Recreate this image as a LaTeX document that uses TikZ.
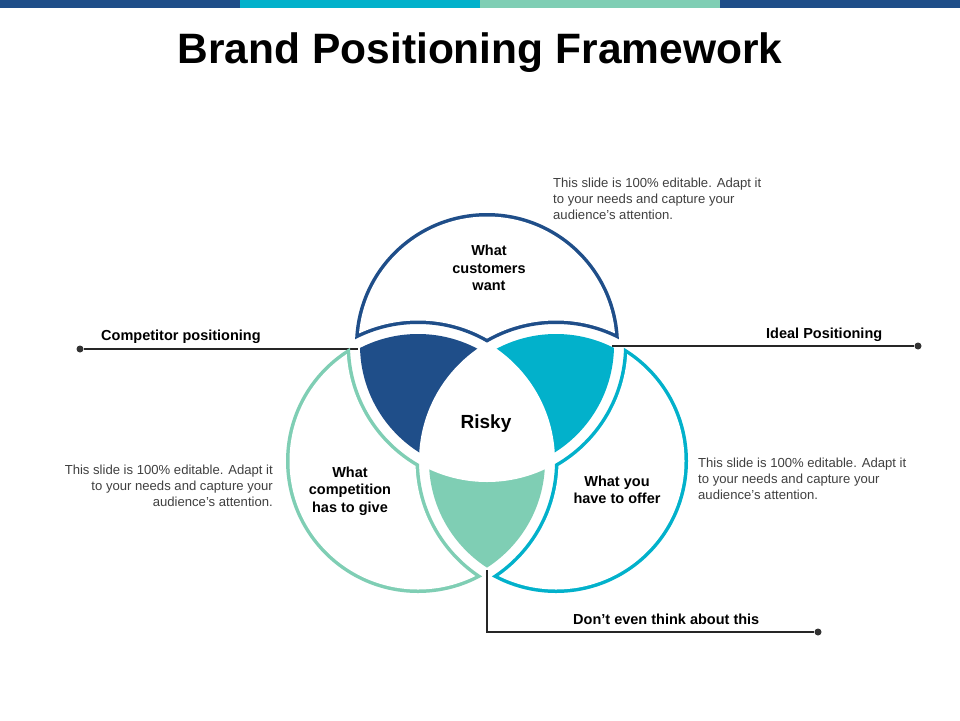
\documentclass[tikz,border=0pt]{standalone}
\usepackage{fontspec}
\setmainfont{Liberation Sans}
\definecolor{navy}{HTML}{1F4E89}
\definecolor{brandteal}{HTML}{02B1CB}
\definecolor{mint}{HTML}{7FCEB4}
\definecolor{notegray}{HTML}{404040}

\begin{document}
\begin{tikzpicture}[x=1pt,y=-1pt,
    headline/.style={font=\fontsize{42.5}{50}\selectfont\bfseries,inner sep=0},
    zonetext/.style={font=\fontsize{14.5}{17.5}\selectfont\bfseries,align=center,inner sep=0},
    notetext/.style={font=\fontsize{13.1}{16}\selectfont,text=notegray,inner sep=0},
    enddot/.style={circle,fill=black!80,inner sep=0,minimum size=7pt},
    leader/.style={black!85,line width=1.1pt}]

  \useasboundingbox[fill=white] (0,0) rectangle (960,720);

  % top bar
  \fill[navy] (0,0) rectangle (240,8);
  \fill[brandteal] (240,0) rectangle (480,8);
  \fill[mint] (480,0) rectangle (720,8);
  \fill[navy] (720,0) rectangle (960,8);

  \node[headline,anchor=base] (title) at (480,63) {Brand Positioning Framework};

  % circle centres
  \coordinate (T) at (487,345);
  \coordinate (L) at (418,461);
  \coordinate (Rt) at (556,461);
  \pgfmathsetmacro{\rr}{132}
  \pgfmathsetmacro{\rin}{127}
  \pgfmathsetmacro{\rout}{137}
  \pgfmathsetmacro{\rwhite}{128.5}
  \pgfmathsetmacro{\routw}{140.5}

  % leader lines
  \node[enddot] (cpdot) at (80,349) {};
  \coordinate (cpend) at (358,349);
  \draw[leader] (cpdot) -- (cpend);
  \node[enddot] (ipdot) at (918,346) {};
  \coordinate (ipend) at (612,346);
  \draw[leader] (ipend) -- (ipdot);
  \node[enddot] (dtdot) at (818,632) {};
  \coordinate (dtend) at (487,570);
  \draw[leader] (dtend) |- (dtdot);

  % overlaps
  \begin{scope}
    \clip (T) circle[radius=\rin];
    \fill[navy] (L) circle[radius=\rin];
  \end{scope}
  \begin{scope}
    \clip (T) circle[radius=\rin];
    \fill[brandteal] (Rt) circle[radius=\rin];
  \end{scope}
  \begin{scope}
    \clip (L) circle[radius=\rin];
    \fill[mint] (Rt) circle[radius=\rin];
  \end{scope}
  \begin{scope}
    \clip (T) circle[radius=\rout];
    \clip (L) circle[radius=\rout];
    \fill[white] (Rt) circle[radius=\rout];
  \end{scope}

  % outlined petals
  \foreach \one/\two/\three/\pc in {T/L/Rt/navy, L/T/Rt/mint, Rt/T/L/brandteal}{
    \begin{scope}[even odd rule]
      \clip (\one) circle[radius=\rr];
      \clip (0,0) -- (960,0) -- (960,720) -- (0,720) -- cycle (\two) circle[radius=\rout];
      \clip (0,0) -- (960,0) -- (960,720) -- (0,720) -- cycle (\three) circle[radius=\rout];
      \fill[\pc] (0,0) rectangle (960,720);
      \clip (\one) circle[radius=\rwhite];
      \clip (0,0) -- (960,0) -- (960,720) -- (0,720) -- cycle (\two) circle[radius=\routw];
      \clip (0,0) -- (960,0) -- (960,720) -- (0,720) -- cycle (\three) circle[radius=\routw];
      \fill[white] (0,0) rectangle (960,720);
    \end{scope}}

  % texts
  \node[zonetext] (want) at (489,268) {What\\customers\\want};
  \node[zonetext] (give) at (350,491) {What\\competition\\has to give};
  \node[zonetext] (offer) at (617,490) {What you\\have to offer};
  \node[font=\fontsize{19}{22}\selectfont\bfseries,inner sep=0] (risky) at (486,424) {Risky};

  \node[zonetext,anchor=base west] (cplabel) at (101,340) {Competitor positioning};
  \node[zonetext,anchor=base west] (iplabel) at (766,338) {Ideal Positioning};
  \node[zonetext,anchor=base west] (dtlabel) at (573,624) {Don’t even think about this};

  \node[notetext,align=left,anchor=west] (note1) at (553,199)
    {This slide is 100\% editable. Adapt it\\to your needs and capture your\\audience's attention.};
  \node[notetext,align=right,anchor=east] (note2) at (273,486)
    {This slide is 100\% editable. Adapt it\\to your needs and capture your\\audience's attention.};
  \node[notetext,align=left,anchor=west] (note3) at (698,479)
    {This slide is 100\% editable. Adapt it\\to your needs and capture your\\audience's attention.};
\end{tikzpicture}
\end{document}
